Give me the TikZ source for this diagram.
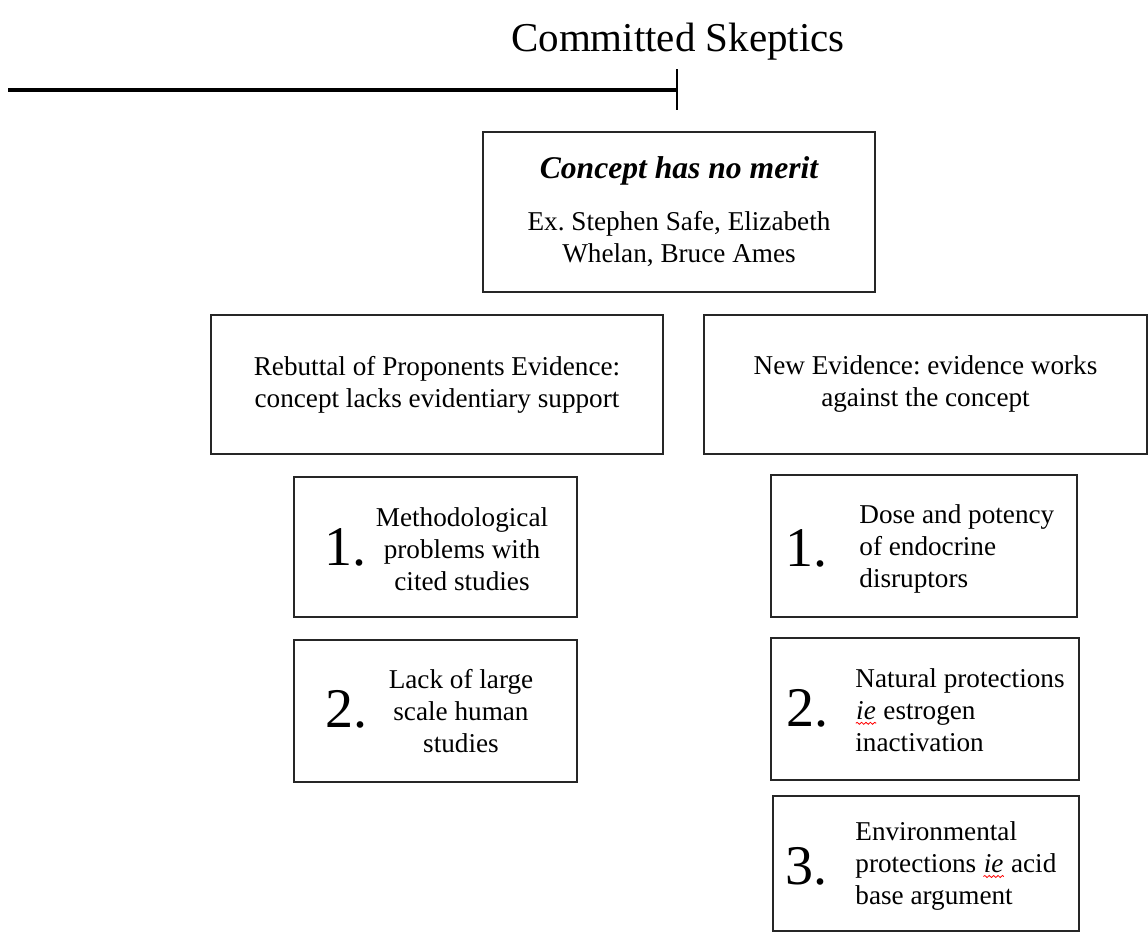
\documentclass[tikz,border=0pt]{standalone}
\usepackage{fontspec}
\setmainfont{Liberation Serif}
\usetikzlibrary{arrows.meta,positioning,decorations.pathmorphing}
\frenchspacing
\newcommand{\spell}[1]{\tikz[baseline=(w.base)]{\node[inner sep=0] (w) {\itshape #1};
  \draw[red,line width=0.4pt,decorate,decoration={snake,amplitude=0.5pt,segment length=2.2pt}]
    ([yshift=-2pt]w.base west) -- ([yshift=-2pt]w.base east);}}

\begin{document}
\begin{tikzpicture}[x=0.5pt,y=-0.5pt,
    font=\fontsize{13.6}{16}\selectfont,
    box/.style={draw=black!85,line width=0.8pt,inner sep=0,align=center},
    num/.style={font=\fontsize{28}{30}\selectfont,inner sep=0,anchor=base west},
    txt/.style={inner sep=0,align=center},
    ltxt/.style={inner sep=0,align=left,anchor=west},
    ttl/.style={font=\fontsize{20.5}{24}\selectfont,inner sep=0,anchor=base}]
  \useasboundingbox (0,0) rectangle (1148,935);
  \node[ttl] (title) at (678,52) {Committed Skeptics};
  \coordinate (rulestart) at (8,90);
  \coordinate (ruleend) at (678,90);
  \draw[line width=1.6pt,-{Bar[width=20.5pt,line width=1.2pt]}] (rulestart) -- (ruleend);
  \node[box,minimum width=196pt,minimum height=80pt] (merit) at (679,212)
    {{\fontsize{15.8}{18}\selectfont\bfseries\itshape Concept has no merit}\\[10pt]
     Ex. Stephen Safe, Elizabeth\\ Whelan, Bruce Ames};
  \node[box,minimum width=226pt,minimum height=69.5pt] (rebut) at (437,384.5)
    {Rebuttal of Proponents Evidence:\\ concept lacks evidentiary support};
  \node[box,minimum width=221.5pt,minimum height=69.5pt] (newev) at (925.5,384.5)
    {New Evidence: evidence works\\ against the concept};
  \node[box,minimum width=141.5pt,minimum height=70pt] (l1) at (435.5,547) {};
  \node[num] (l1n) at (324,566) {1.};
  \node[txt] (l1t) at (462,549) {Methodological\\ problems with\\ cited studies};
  \node[box,minimum width=141.5pt,minimum height=71pt] (l2) at (435.5,711) {};
  \node[num] (l2n) at (325,728) {2.};
  \node[txt] (l2t) at (461,711) {Lack of large\\ scale human\\ studies};
  \node[box,minimum width=153pt,minimum height=71pt] (r1) at (924,546) {};
  \node[num] (r1n) at (785,567) {1.};
  \node[ltxt] (r1t) at (859,549) {Dose and potency\\ of endocrine\\ disruptors};
  \node[box,minimum width=154pt,minimum height=71pt] (r2) at (925,709) {};
  \node[num] (r2n) at (786,727) {2.};
  \node[ltxt] (r2t) at (855,710) {Natural protections\\ \spell{ie} estrogen\\ inactivation};
  \node[box,minimum width=153pt,minimum height=67.5pt] (r3) at (926,863.5) {};
  \node[num] (r3n) at (785,885) {3.};
  \node[ltxt] (r3t) at (855,866) {Environmental\\ protections \spell{ie} acid\\ base argument};
\end{tikzpicture}
\end{document}
